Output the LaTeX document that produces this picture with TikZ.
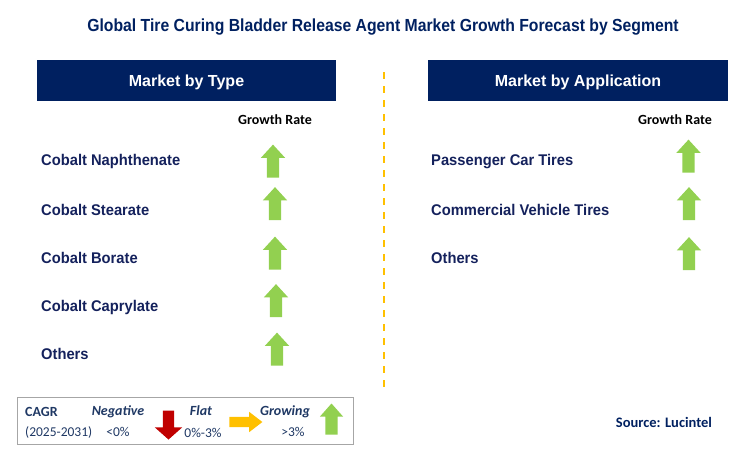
\documentclass[tikz,border=0pt]{standalone}
\usepackage{fontspec}
\setmainfont{Liberation Sans}
\newfontfamily\titlefont[FakeStretch=0.9]{Liberation Sans}
\newfontfamily\itemfont[FakeStretch=0.95]{Liberation Sans}
\newfontfamily\calfont{Carlito}
\usepackage{tikz}
\usetikzlibrary{shapes.arrows}
\usepackage{xcolor}
\definecolor{navy}{HTML}{002060}
\definecolor{itemblue}{HTML}{14215C}
\definecolor{legendblue}{HTML}{1F3864}
\definecolor{upgreen}{HTML}{92D050}
\definecolor{downred}{HTML}{C00000}
\definecolor{flatyellow}{HTML}{FFC000}
\definecolor{boxgrey}{HTML}{A6A6A6}

\begin{document}
\begin{tikzpicture}[x=1pt, y=-1pt,
		header/.style={fill=navy, text=white, font=\fontsize{16}{18}\selectfont\bfseries, minimum width=299pt, minimum height=41pt, text height=11.5pt, text depth=0pt, inner sep=0pt},
		item/.style={anchor=base west, inner sep=0pt, text=itemblue, font=\itemfont\fontsize{15.5}{18}\selectfont\bfseries},
		rate/.style={anchor=base, inner sep=0pt, font=\calfont\fontsize{14}{16}\selectfont\bfseries},
		legtext/.style={anchor=base, inner sep=0pt, text=legendblue, font=\calfont\fontsize{13.5}{16}\selectfont},
		legbold/.style={legtext, font=\calfont\fontsize{14}{16}\selectfont\bfseries\itshape},
		uparrow/.style={single arrow, rotate=90, fill=upgreen, inner xsep=0pt, inner ysep=6pt, minimum height=33pt, single arrow head extend=6pt, single arrow tip angle=85},
		downarrow/.style={single arrow, rotate=-90, fill=downred, inner xsep=0pt, inner ysep=5.5pt, minimum height=29pt, single arrow head extend=8pt, single arrow tip angle=97},
		flatarrow/.style={single arrow, fill=flatyellow, inner xsep=0pt, inner ysep=5pt, minimum height=33pt, single arrow head extend=5pt, single arrow tip angle=75}]
		\useasboundingbox (0,0) rectangle (745,461);
		\node[anchor=base, inner sep=0pt, text=navy, font=\titlefont\fontsize{17.5}{20}\selectfont\bfseries] (title) at (383,31.7) {Global Tire Curing Bladder Release Agent Market Growth Forecast by Segment};
		\node[header] (typehead) at (186.5,80.5) {Market by Type};
		\node[header, minimum width=300pt] (apphead) at (578,80.5) {Market by Application};
		\coordinate (divtop) at (384,72);
		\coordinate (divbot) at (384,390);
		\draw[flatyellow, line width=2pt, dash pattern=on 7pt off 7pt] (divtop) -- (divbot);
		\node[rate] (typerate) at (275,124.5) {Growth Rate};
		\node[rate] (apprate) at (675,124) {Growth Rate};
		\node[item] (t1) at (41,165.7) {Cobalt Naphthenate};
		\node[item] (t2) at (41,215.5) {Cobalt Stearate};
		\node[item] (t3) at (41,263.5) {Cobalt Borate};
		\node[item] (t4) at (41,311.5) {Cobalt Caprylate};
		\node[item] (t5) at (41,359) {Others};
		\node[uparrow] (ta1) at (273,164.5) {};
		\node[uparrow] (ta2) at (275,207) {};
		\node[uparrow] (ta3) at (275,256.5) {};
		\node[uparrow] (ta4) at (276,304) {};
		\node[uparrow] (ta5) at (277,352.5) {};
		\node[item] (a1) at (431,165.7) {Passenger Car Tires};
		\node[item] (a2) at (431,215) {Commercial Vehicle Tires};
		\node[item] (a3) at (431,263) {Others};
		\node[uparrow] (aa1) at (688.5,159.5) {};
		\node[uparrow] (aa2) at (689,207) {};
		\node[uparrow] (aa3) at (689,257) {};
		\node[draw=boxgrey, line width=1pt, minimum width=336pt, minimum height=47pt, inner sep=0pt] (legend) at (185,420.5) {};
		\node[legtext, anchor=base west, font=\calfont\fontsize{14}{16}\selectfont\bfseries] (cagr) at (25,416.5) {CAGR};
		\node[legtext, anchor=base west] (years) at (25,436.5) {(2025-2031)};
		\node[legbold] (neg) at (118,415.5) {Negative};
		\node[legtext] (negval) at (118,436.5) {<0\%};
		\node[downarrow] (negarrow) at (168.5,422.5) {};
		\node[legbold] (flat) at (201,415.5) {Flat};
		\node[legtext] (flatval) at (203,437) {0\%-3\%};
		\node[flatarrow] (flatarr) at (242.5,422) {};
		\node[legbold] (grow) at (285,415.5) {Growing};
		\node[legtext] (growval) at (293,436.5) {>3\%};
		\node[uparrow, minimum height=31pt, single arrow head extend=5.5pt, single arrow tip angle=83] (growarrow) at (331.5,422.5) {};
		\node[anchor=base, inner sep=0pt, text=navy, font=\calfont\fontsize{14.5}{16}\selectfont\bfseries] (source) at (664,427.5) {Source: Lucintel};
	\end{tikzpicture}
\end{document}
